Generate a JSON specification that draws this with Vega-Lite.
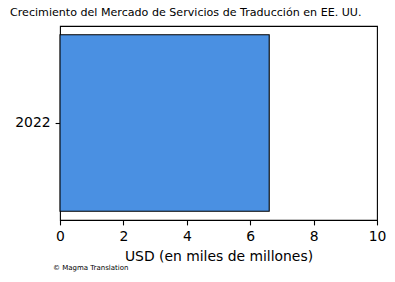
{
  "$schema": "https://vega.github.io/schema/vega-lite/v6.json",
  "autosize": "none",
  "width": 317,
  "height": 194,
  "padding": {"left": 60, "top": 26, "right": 18, "bottom": 62},
  "background": "white",
  "title": {
    "text": "Crecimiento del Mercado de Servicios de Traducción en EE. UU.",
    "anchor": "start",
    "frame": "group",
    "dx": -50,
    "offset": 8,
    "font": "DejaVu Sans",
    "fontSize": 11.1,
    "fontWeight": "normal",
    "color": "black"
  },
  "config": {
    "view": {"stroke": "black", "strokeWidth": 1.1},
    "axis": {
      "labelFont": "DejaVu Sans",
      "titleFont": "DejaVu Sans",
      "labelFontSize": 13.9,
      "titleFontSize": 13.9,
      "titleFontWeight": "normal",
      "labelColor": "black",
      "titleColor": "black",
      "tickColor": "black",
      "domainColor": "black",
      "tickSize": 4.9,
      "tickWidth": 1.1,
      "grid": false
    }
  },
  "data": {"values": [{"year": "2022", "usd": 6.6, "note": "© Magma Translation"}]},
  "layer": [
    {
      "mark": {"type": "bar", "color": "#4a90e2", "stroke": "black", "strokeWidth": 1.1},
      "encoding": {
        "y": {
          "field": "year",
          "type": "nominal",
          "scale": {"paddingInner": 0, "paddingOuter": 0.05},
          "axis": {"title": null, "labelAngle": 0, "labelPadding": 5, "domain": false}
        },
        "x": {
          "field": "usd",
          "type": "quantitative",
          "scale": {"domain": [0, 10], "nice": false},
          "axis": {"title": "USD (en miles de millones)", "values": [0, 2, 4, 6, 8, 10], "labelPadding": 5, "titlePadding": 6, "domain": false, "labelFlush": false}
        }
      }
    },
    {
      "mark": {"type": "text", "align": "left", "baseline": "middle", "font": "DejaVu Sans", "fontSize": 7, "color": "black", "dx": -7, "dy": 48},
      "encoding": {
        "text": {"field": "note"},
        "x": {"datum": 0, "type": "quantitative"},
        "y": {"value": 194}
      }
    }
  ]
}
